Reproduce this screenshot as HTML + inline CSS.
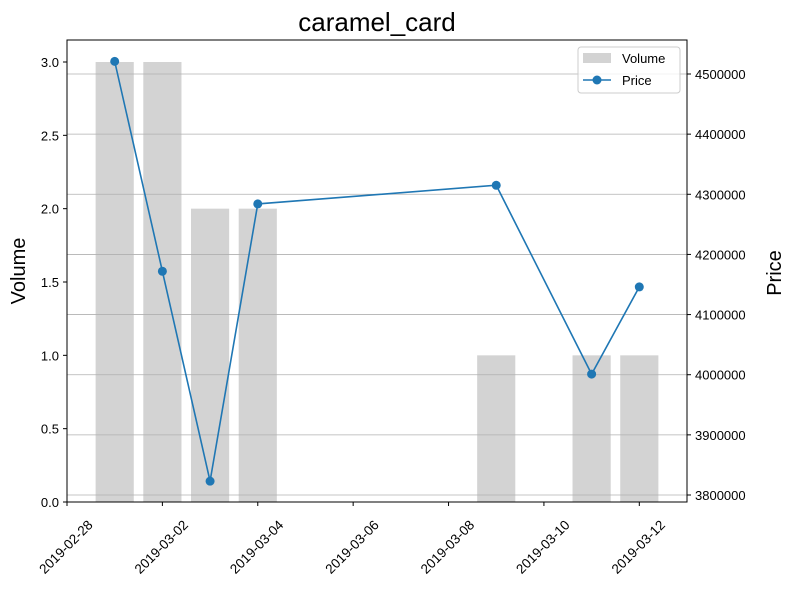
<!DOCTYPE html>
<html><head><meta charset="utf-8"><style>
body{margin:0;background:#fff;font-family:"Liberation Sans","DejaVu Sans",sans-serif}
</style></head><body>
<svg id="chart" width="794" height="588" xmlns="http://www.w3.org/2000/svg" font-family="Liberation Sans, DejaVu Sans, sans-serif"></svg>
<script>
const dates=["2019-03-01","2019-03-02","2019-03-03","2019-03-04","2019-03-09","2019-03-11","2019-03-12"];
const volumes=[3,3,2,2,1,1,1];
const prices=[4521000,4172000,3823000,4284000,4315000,4001000,4146000];
const volTicks=[0,0.5,1.0,1.5,2.0,2.5,3.0];
const priceTicks=[3800000,3900000,4000000,4100000,4200000,4300000,4400000,4500000];
const dateTicks=["2019-02-28","2019-03-02","2019-03-04","2019-03-06","2019-03-08","2019-03-10","2019-03-12"];
const L=67,R=687,T=40,B=502;
const d0=Date.UTC(2019,1,28),dayW=(R-L)/13;
function day(s){const p=s.split('-');return (Date.UTC(+p[0],+p[1]-1,+p[2])-d0)/864e5;}
const x=s=>L+day(s)*dayW;
const yV=v=>B-v*(440/3);
const yP=p=>495-(p-3800000)*(421/700000);
const svg=document.getElementById('chart');const NS="http://www.w3.org/2000/svg";
function el(t,a,txt){const e=document.createElementNS(NS,t);for(const k in a)e.setAttribute(k,a[k]);if(txt!=null)e.textContent=txt;svg.appendChild(e);return e;}
let e=el('text',{x:377,y:31,'text-anchor':'middle','font-size':26},'caramel_card');


dates.forEach((d,i)=>{const b=el('rect',{x:x(d)-0.4*dayW,y:yV(volumes[i]),width:0.8*dayW,height:B-yV(volumes[i]),fill:'#d3d3d3'});

});
priceTicks.forEach(p=>{const g=el('line',{x1:L,x2:R,y1:yP(p),y2:yP(p),stroke:'#b0b0b0','stroke-width':0.8});


el('line',{x1:R,x2:R+4,y1:yP(p),y2:yP(p),stroke:'#000'});
const t=el('text',{x:R+8,y:yP(p)+5,'font-size':13},String(p));

});
volTicks.forEach(v=>{el('line',{x1:L-4,x2:L,y1:yV(v),y2:yV(v),stroke:'#000'});
const t=el('text',{x:L-8,y:yV(v)+5,'font-size':13,'text-anchor':'end'},v.toFixed(1));

});
dateTicks.forEach(d=>{const xx=x(d);el('line',{x1:xx,x2:xx,y1:B,y2:B+4,stroke:'#000'});
const cy=B+45;
const t=el('text',{x:xx-1,y:cy+4.5,'font-size':13.5,'text-anchor':'middle',transform:`rotate(-45 ${xx-1} ${cy})`},d);

});
const pts=dates.map((d,i)=>x(d)+','+yP(prices[i])).join(' ');
e=el('polyline',{points:pts,fill:'none',stroke:'#1f77b4','stroke-width':1.6});


dates.forEach((d,i)=>{const c=el('circle',{cx:x(d),cy:yP(prices[i]),r:4.5,fill:'#1f77b4'});

});
e=el('rect',{x:L,y:T,width:R-L,height:B-T,fill:'none',stroke:'#000','stroke-width':1});


e=el('text',{x:25,y:271,'font-size':20,'text-anchor':'middle',transform:'rotate(-90 25 271)'},'Volume');


e=el('text',{x:781,y:273,'font-size':20,'text-anchor':'middle',transform:'rotate(-90 781 273)'},'Price');


e=el('rect',{x:578,y:47,width:102,height:46,rx:3,fill:'#fff','fill-opacity':0.8,stroke:'#ccc'});


el('rect',{x:583,y:53,width:28,height:10,fill:'#d3d3d3'});
e=el('text',{x:622,y:63,'font-size':13},'Volume');


el('line',{x1:583,x2:611,y1:80,y2:80,stroke:'#1f77b4','stroke-width':1.6});
el('circle',{cx:597,cy:80,r:4.5,fill:'#1f77b4'});
e=el('text',{x:622,y:85,'font-size':13},'Price');


</script>
</body></html>
